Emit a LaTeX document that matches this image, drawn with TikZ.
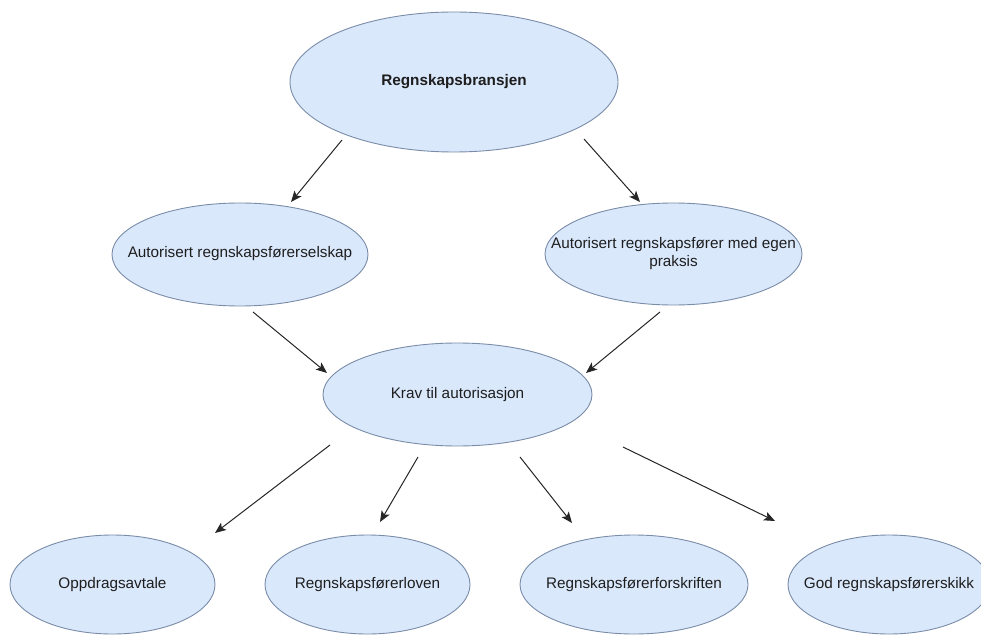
\documentclass[tikz,border=0pt]{standalone}
\usepackage{fontspec}
\setmainfont{Liberation Sans}
\usetikzlibrary{shapes.geometric,arrows.meta}
\definecolor{bubblefill}{HTML}{DAE8FC}
\definecolor{bubbleline}{HTML}{7A8CA8}
\definecolor{txt}{HTML}{1E1E1E}
\newcommand{\ctxt}[1]{\makebox[0pt][c]{\begin{tabular}{@{}c@{}}#1\end{tabular}}}
\tikzset{
  bubble/.style={ellipse, draw=bubbleline, fill=bubblefill, line width=0.9pt,
    inner sep=0pt, text=txt, font=\fontsize{15.3}{17.5}\selectfont},
  link/.style={draw=black!85, line width=1pt, -{Stealth[length=11pt,width=9pt,inset=2.5pt]}}
}
\begin{document}
\begin{tikzpicture}[x=1pt,y=1pt]
\clip (0,0) rectangle (981,635);
\fill[white] (0,0) rectangle (981,635);

\node[bubble, minimum width=328pt, minimum height=140pt, font=\fontsize{15.3}{17.5}\selectfont\bfseries] (top) at (454,553) {\ctxt{Regnskapsbransjen}};
\node[bubble, minimum width=256pt, minimum height=103pt] (sel) at (240,380.5) {\ctxt{Autorisert regnskapsførerselskap}};
\node[bubble, minimum width=257pt, minimum height=102pt] (egen) at (673.5,381) {\ctxt{Autorisert regnskapsfører med egen\\praksis}};
\node[bubble, minimum width=269pt, minimum height=103pt] (krav) at (457.5,240.5) {\ctxt{Krav til autorisasjon}};
\node[bubble, minimum width=205pt, minimum height=99pt] (opp) at (112.5,50.5) {\ctxt{Oppdragsavtale}};
\node[bubble, minimum width=205pt, minimum height=99pt] (lov) at (367.5,50.5) {\ctxt{Regnskapsførerloven}};
\node[bubble, minimum width=228pt, minimum height=99pt] (fors) at (634,50.5) {\ctxt{Regnskapsførerforskriften}};
\node[bubble, minimum width=202pt, minimum height=99pt] (skikk) at (889,50.5) {\ctxt{God regnskapsførerskikk}};

\coordinate (a1s) at (342,495); \coordinate (a1e) at (291,433);
\coordinate (a2s) at (584,496); \coordinate (a2e) at (640,433);
\coordinate (a3s) at (253,323); \coordinate (a3e) at (327,262);
\coordinate (a4s) at (660,323); \coordinate (a4e) at (586,262);
\coordinate (a5s) at (330,190); \coordinate (a5e) at (215,102);
\coordinate (a6s) at (418,178); \coordinate (a6e) at (380,113);
\coordinate (a7s) at (520,178); \coordinate (a7e) at (572,112);
\coordinate (a8s) at (623,188); \coordinate (a8e) at (775,114);

\draw[link] (a1s) -- (a1e);
\draw[link] (a2s) -- (a2e);
\draw[link] (a3s) -- (a3e);
\draw[link] (a4s) -- (a4e);
\draw[link] (a5s) -- (a5e);
\draw[link] (a6s) -- (a6e);
\draw[link] (a7s) -- (a7e);
\draw[link] (a8s) -- (a8e);
\end{tikzpicture}
\end{document}
